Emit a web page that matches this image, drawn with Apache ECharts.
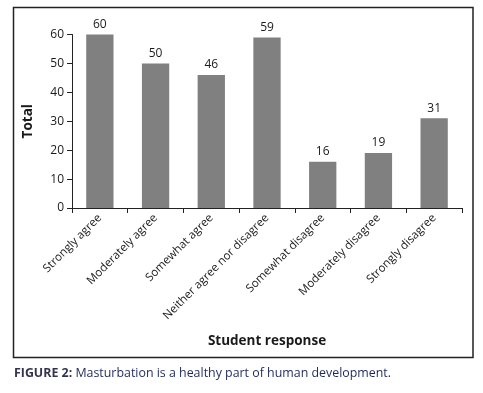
<!DOCTYPE html>
<html>
<head>
<meta charset="utf-8">
<script src="https://cdn.jsdelivr.net/npm/echarts@6/dist/echarts.min.js"></script>
<style>
    html, body { margin: 0; padding: 0; background: #fff; }
    #chart { width: 483px; height: 393px; }
</style>
</head>
<body>
<div id="chart"></div>
<script>
var categories = ['Strongly agree', 'Moderately agree', 'Somewhat agree', 'Neither agree nor disagree', 'Somewhat disagree', 'Moderately disagree', 'Strongly disagree'];
var totals = [60, 50, 46, 59, 16, 19, 31];
var yTicks = [0, 10, 20, 30, 40, 50, 60];

var font = 'Open Sans';
var textColor = '#1a1a1a';

var option = {
    animation: false,
    backgroundColor: '#fff',
    grid: {
        left: 72,
        right: 21,
        top: 34.5,
        bottom: 185
    },
    graphic: [
        {
            type: 'rect',
            shape: { x: 13.5, y: 7.5, width: 459.5, height: 350 },
            style: { fill: 'none', stroke: '#222', lineWidth: 1.5 }
        },
        {
            type: 'text',
            left: 14,
            top: 367,
            style: {
                rich: {
                    b: { fontFamily: font, fontSize: 12.4, fontWeight: 'bold', fill: '#333350' },
                    t: { fontFamily: font, fontSize: 12.4, fill: '#1e2a5e' }
                },
                text: '{b|FIGURE 2:}{t| Masturbation is a healthy part of human development.}'
            }
        }
    ],
    xAxis: {
        type: 'category',
        data: categories,
        name: 'Student response',
        nameLocation: 'middle',
        nameGap: 126,
        nameTextStyle: { fontFamily: font, fontSize: 13.5, fontWeight: 'bold', color: textColor },
        axisLine: { lineStyle: { color: '#222', width: 1 } },
        axisTick: { show: true, length: 5, lineStyle: { color: '#222' } },
        axisLabel: {
            rotate: 45,
            interval: 0,
            margin: 8,
            fontFamily: font,
            fontSize: 11.5,
            color: textColor
        }
    },
    yAxis: {
        type: 'value',
        min: 0,
        max: 60,
        interval: 10,
        name: 'Total',
        nameLocation: 'middle',
        nameGap: 37,
        nameTextStyle: { fontFamily: font, fontSize: 13.5, fontWeight: 'bold', color: textColor },
        axisLine: { show: true, lineStyle: { color: '#222', width: 1 } },
        axisTick: { show: true, length: 5, lineStyle: { color: '#222' } },
        splitLine: { show: false },
        axisLabel: {
            margin: 8,
            fontFamily: font,
            fontSize: 12,
            color: textColor,
            formatter: function (v) { return yTicks.indexOf(v) > -1 ? v : ''; }
        }
    },
    series: [
        {
            type: 'bar',
            data: totals,
            barWidth: '49%',
            itemStyle: { color: '#808080' },
            label: {
                show: true,
                position: 'top',
                distance: 4,
                fontFamily: font,
                fontSize: 12,
                color: textColor
            }
        }
    ]
};

var chart = echarts.init(document.getElementById('chart'));
chart.setOption(option);
</script>
</body>
</html>
